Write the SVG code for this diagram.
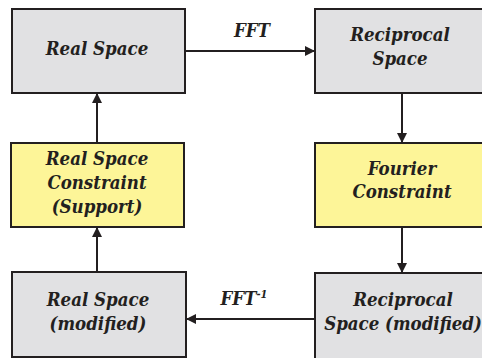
<svg xmlns="http://www.w3.org/2000/svg" width="482" height="358" viewBox="0 0 482 358">
<style>
.gray{fill:#e1e1e3;stroke:#231f20;stroke-width:2}
.yellow{fill:#fdf598;stroke:#231f20;stroke-width:2}
.t{font-family:'DejaVu Serif Condensed','DejaVu Serif',serif;font-stretch:condensed;font-weight:bold;font-style:italic;font-size:18.5px;fill:#231f20;text-anchor:middle}
.conn line{stroke:#231f20;stroke-width:2;fill:none}
</style>
<defs>
<marker id="ah" viewBox="0 0 10 10" refX="10" refY="5" markerWidth="5" markerHeight="5" orient="auto" markerUnits="strokeWidth">
<path d="M0,0 L10,5 L0,10 Z" fill="#231f20"/>
</marker>
</defs>
<rect width="482" height="358" fill="#ffffff"/>
<g id="real-space">
<rect class="gray" x="12" y="9" width="173" height="84"/>
<text class="t" x="97" y="55">Real Space</text>
</g>
<g id="reciprocal-space">
<rect class="gray" x="315" y="9" width="175" height="84"/>
<text class="t" x="400" y="41">Reciprocal</text>
<text class="t" x="400" y="65">Space</text>
</g>
<g id="real-space-constraint">
<rect class="yellow" x="11" y="143" width="173" height="84"/>
<text class="t" x="97" y="165">Real Space</text>
<text class="t" x="97" y="189">Constraint</text>
<text class="t" x="97" y="213">(Support)</text>
</g>
<g id="fourier-constraint">
<rect class="yellow" x="315" y="143" width="175" height="84"/>
<text class="t" x="402" y="175">Fourier</text>
<text class="t" x="402" y="198">Constraint</text>
</g>
<g id="real-space-modified">
<rect class="gray" x="12" y="272" width="174" height="85"/>
<text class="t" x="98" y="306">Real Space</text>
<text class="t" x="98" y="330">(modified)</text>
</g>
<g id="reciprocal-space-modified">
<rect class="gray" x="315" y="273" width="175" height="92"/>
<text class="t" x="403" y="306">Reciprocal</text>
<text class="t" x="403" y="330">Space (modified)</text>
</g>
<g class="conn" id="connectors">
<line x1="185" y1="51" x2="315" y2="51" marker-end="url(#ah)"/>
<line x1="402" y1="93" x2="402" y2="143" marker-end="url(#ah)"/>
<line x1="402" y1="227" x2="402" y2="273" marker-end="url(#ah)"/>
<line x1="315" y1="319" x2="186" y2="319" marker-end="url(#ah)"/>
<line x1="97" y1="272" x2="97" y2="227" marker-end="url(#ah)"/>
<line x1="97" y1="143" x2="97" y2="93" marker-end="url(#ah)"/>
<text class="t" x="252" y="37">FFT</text>
<text class="t" x="244" y="305">FFT<tspan font-size="11" dy="-7">-1</tspan></text>
</g>
</svg>
